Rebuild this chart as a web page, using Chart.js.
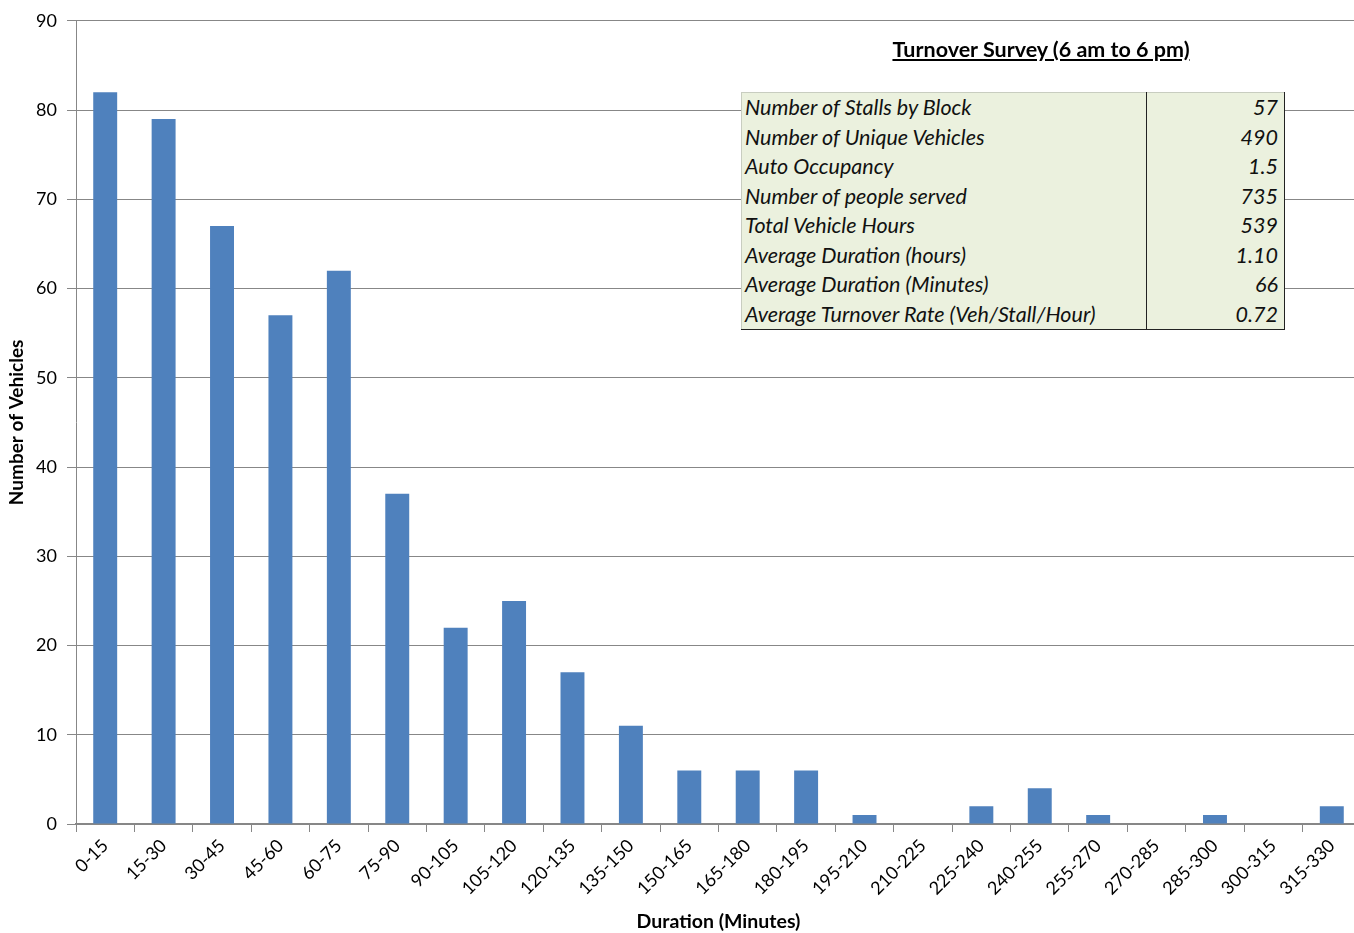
<!DOCTYPE html>
<html>
<head>
<meta charset="utf-8">
<script src="https://cdn.jsdelivr.net/npm/chart.js@4.4.1/dist/chart.umd.min.js"></script>
<style>
  html, body { margin: 0; padding: 0; overflow: hidden; background: #fff; }
  #wrap { position: relative; width: 1362px; height: 933px; }
  #survey-title {
    position: absolute; left: 791px; width: 500px; top: 36px;
    text-align: center; font: bold 21.5px Lato, sans-serif; text-decoration: underline; color: #000;
  }
  #survey {
    position: absolute; left: 741px; top: 92px; width: 544px; height: 238px;
    background: #ebf1de; border-collapse: collapse; box-sizing: border-box; table-layout: fixed;
    border-top: 1px solid #c8cdc0; border-left: 1px solid #c8cdc0;
    border-right: 1px solid #222; border-bottom: 1px solid #222;
    font: italic 21.5px Lato, sans-serif; color: #111;
  }
  #survey td { padding: 0 3px; height: 29px; line-height: 29px; white-space: nowrap; overflow: hidden; }
  #survey td.k { width: 398px; }
  #survey td.v { text-align: right; border-left: 1px solid #222; padding-right: 6px; }
</style>
</head>
<body>
<div id="wrap">
  <canvas id="turnoverChart"></canvas>
  <div id="survey-title">Turnover Survey (6 am to 6 pm)</div>
  <table id="survey"><tbody></tbody></table>
</div>
<script>
// duration bins (minutes) and vehicle counts
const durations = ['0-15','15-30','30-45','45-60','60-75','75-90','90-105','105-120','120-135','135-150',
  '150-165','165-180','180-195','195-210','210-225','225-240','240-255','255-270','270-285','285-300',
  '300-315','315-330'];
const vehicles = [82, 79, 67, 57, 62, 37, 22, 25, 17, 11, 6, 6, 6, 1, 0, 2, 4, 1, 0, 1, 0, 2];

// summary box
const surveyLabels = ['Number of Stalls by Block', 'Number of Unique Vehicles', 'Auto Occupancy',
  'Number of people served', 'Total Vehicle Hours', 'Average Duration (hours)',
  'Average Duration (Minutes)', 'Average Turnover Rate (Veh/Stall/Hour)'];
const surveyValues = ['57', '490', '1.5', '735', '539', '1.10', '66', '0.72'];

const yTicks = { min: 0, max: 90, step: 10 };

const FONT = 'Lato, sans-serif';
const GRID = '#878787';

function renderSurvey() {
  const tbody = document.querySelector('#survey tbody');
  tbody.innerHTML = '';
  surveyLabels.forEach((lab, i) => {
    const tr = document.createElement('tr');
    tr.innerHTML = `<td class="k">${lab}</td><td class="v">${surveyValues[i]}</td>`;
    tbody.appendChild(tr);
  });
}

function renderChart() {
  const ctx = document.getElementById('turnoverChart').getContext('2d');
  return new Chart(ctx, {
    type: 'bar',
    data: {
      labels: durations,
      datasets: [{
        data: vehicles,
        backgroundColor: '#4f81bd',
        borderWidth: 0,
        barPercentage: 0.41,
        categoryPercentage: 1
      }]
    },
    options: {
      responsive: true,
      maintainAspectRatio: false,
      animation: false,
      layout: { padding: { top: 18, right: 1, left: 0, bottom: 0 } },
      plugins: { legend: { display: false }, tooltip: { enabled: false } },
      scales: {
        x: {
          grid: { drawOnChartArea: false, drawTicks: true, tickLength: 8, color: GRID, offset: true },
          border: { color: GRID, width: 2 },
          ticks: { autoSkip: false, maxRotation: 45, minRotation: 45, padding: 3, color: '#000',
                   font: { family: FONT, size: 18 } },
          title: { display: true, text: 'Duration (Minutes)', color: '#000',
                   font: { family: FONT, size: 19.5, weight: 'bold' }, padding: { top: 0, bottom: 0 } },
          afterFit: s => { s.height = 109; }
        },
        y: {
          min: yTicks.min, max: yTicks.max,
          grid: { color: GRID, tickLength: 9 },
          border: { color: GRID },
          ticks: { stepSize: yTicks.step, padding: 10, color: '#000', font: { family: FONT, size: 18 } },
          title: { display: true, text: 'Number of Vehicles', color: '#000',
                   font: { family: FONT, size: 19, weight: 'bold' }, padding: { top: 5, bottom: 0 } },
          afterFit: s => { s.width = 76; }
        }
      }
    }
  });
}

renderSurvey();
renderChart();
</script>
</body>
</html>
